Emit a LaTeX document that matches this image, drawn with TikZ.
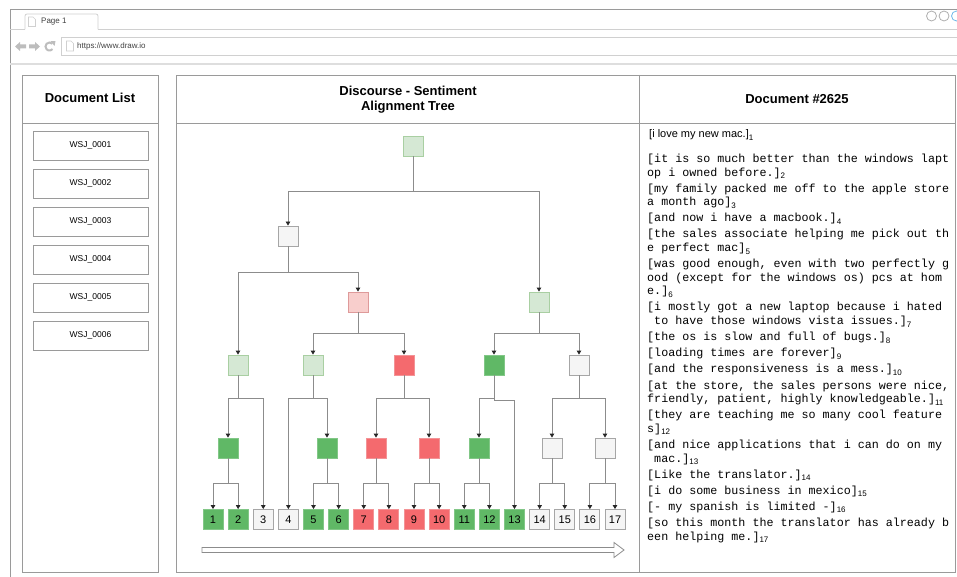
\documentclass[tikz,border=0pt]{standalone}
\usepackage{fontspec}
\setmainfont{Liberation Sans}
\newfontfamily\monofont{Liberation Mono}
\usetikzlibrary{arrows.meta}
\definecolor{lgfill}{HTML}{D5E8D4}\definecolor{lgdraw}{HTML}{A9CFA2}
\definecolor{dgfill}{HTML}{60B866}\definecolor{dgdraw}{HTML}{82C787}
\definecolor{rdfill}{HTML}{F46A6E}\definecolor{rddraw}{HTML}{F39396}
\definecolor{pkfill}{HTML}{F8CECC}\definecolor{pkdraw}{HTML}{DE9A9A}
\definecolor{gyfill}{HTML}{F5F5F5}\definecolor{gydraw}{HTML}{A6A6A6}
\definecolor{framecol}{HTML}{9A9A9A}
\definecolor{lightframe}{HTML}{D0D0D0}
\definecolor{conncol}{HTML}{8C8C8C}
\definecolor{iconcol}{HTML}{BDBDBD}
\definecolor{bluecirc}{HTML}{6FB8E8}
\newcommand\sbs[1]{\raisebox{-2.6pt}{\rmfamily\fontsize{8}{8}\selectfont #1}}
\tikzset{
  panel/.style={draw=framecol, line width=0.8pt},
  tbox/.style={minimum width=20pt, minimum height=20pt, inner sep=0pt, line width=0.8pt, font=\fontsize{11}{12}\selectfont},
  lg/.style={tbox, fill=lgfill, draw=lgdraw},
  dg/.style={tbox, fill=dgfill, draw=dgdraw},
  rd/.style={tbox, fill=rdfill, draw=rddraw},
  pk/.style={tbox, fill=pkfill, draw=pkdraw},
  gy/.style={tbox, fill=gyfill, draw=gydraw},
  conn/.style={draw=conncol, line width=0.8pt, -{Triangle[width=4.5pt,length=4pt,color=black!85]}},
  docitem/.style={draw=framecol, line width=0.8pt, minimum width=115pt, minimum height=29pt, inner sep=0pt, font=\fontsize{8.5}{10}\selectfont},
  title/.style={font=\bfseries\fontsize{13}{15}\selectfont, align=center},
  small/.style={font=\fontsize{8}{10}\selectfont, inner sep=0pt}
}
\begin{document}
\begin{tikzpicture}[x=1pt,y=-1pt]
\useasboundingbox (0,0) rectangle (957,577);
% browser frame
\draw[framecol, line width=0.8pt] (10,577) -- (10,9) -- (960,9);
\draw[lightframe, line width=0.8pt] (10,29) -- (25,29);
\draw[lightframe, line width=0.8pt] (98,29) -- (960,29);
\draw[lightframe, line width=0.8pt, fill=white, rounded corners=2pt] (25,29.4) -- (25,14) -- (98,14) -- (98,29.4);
\draw[lightframe, line width=0.7pt, fill=white] (28.5,17) -- (33,17) -- (35.5,19.5) -- (35.5,26.5) -- (28.5,26.5) -- cycle;
\node[small, anchor=west, text=black!75] (tab) at (41,21.5) {Page 1};
% nav icons
\fill[iconcol] (15,46.5) -- (20,42) -- (20,44.5) -- (26,44.5) -- (26,48.5) -- (20,48.5) -- (20,51) -- cycle;
\fill[iconcol] (40,46.5) -- (35,42) -- (35,44.5) -- (29,44.5) -- (29,48.5) -- (35,48.5) -- (35,51) -- cycle;
\draw[iconcol, line width=2pt] (52.3,43.7) arc (-45:-320:4);
\fill[iconcol] (50.5,41.2) -- (55.5,41.2) -- (54.5,46) -- cycle;
\draw[lightframe, line width=0.8pt] (960,37) -- (61,37) -- (61,55) -- (960,55);
\draw[lightframe, line width=0.7pt, fill=white] (66.5,41) -- (71,41) -- (73.5,43.5) -- (73.5,51) -- (66.5,51) -- cycle;
\node[small, anchor=west, text=black!75] (url) at (77,46.3) {https://www.draw.io};
\draw[lightframe!70, line width=1.2pt] (10,64) -- (960,64);
\draw[framecol!80, line width=0.8pt] (931.5,16) circle (5);
\draw[framecol!80, line width=0.8pt] (944,16) circle (5);
\draw[bluecirc, line width=0.8pt] (956.5,16) circle (5);
% document list panel
\draw[panel] (22,75) rectangle (158,572);
\draw[panel] (22,123) -- (158,123);
\node[title] (dltitle) at (90,98) {Document List};
\foreach \i in {1,...,6}{
  \node[docitem] (w\i) at (90.5,{145.5+38*(\i-1)}) {WSJ\_000\i};
}
% main panel
\draw[panel] (176,75) rectangle (955,572);
\draw[panel] (176,123) -- (955,123);
\draw[panel] (639,75) -- (639,572);
\node[title] (tt) at (408,100) {Discourse - Sentiment\\Alignment Tree};
\node[title] (dt) at (797,99) {Document \#2625};
% tree nodes
\node[lg] (root) at (413,146) {};
\node[gy] (n1) at (288,236) {};
\node[pk] (n2) at (358,302) {};
\node[lg] (n3) at (539,302) {};
\node[lg] (A) at (238,365) {};
\node[lg] (B) at (313,365) {};
\node[rd] (C) at (404,365) {};
\node[dg] (D) at (494,365) {};
\node[gy] (E) at (579,365) {};
\node[dg] (A1) at (228,448) {};
\node[dg] (B1) at (327,448) {};
\node[rd] (C1) at (376,448) {};
\node[rd] (C2) at (429,448) {};
\node[dg] (D1) at (479,448) {};
\node[gy] (E1) at (552,448) {};
\node[gy] (E2) at (605,448) {};
\foreach \i/\s in {1/dg,2/dg,3/gy,4/gy,5/dg,6/dg,7/rd,8/rd,9/rd,10/rd,11/dg,12/dg,13/dg,14/gy,15/gy,16/gy,17/gy}{
  \node[\s] (L\i) at ({213+25.125*(\i-1)},519.5) {\i};
}
% branch levels
\coordinate (b0) at (0,191);
\coordinate (b1) at (0,272);
\coordinate (b2) at (0,333);
\coordinate (b3) at (0,398);
\coordinate (b3r) at (0,400);
\coordinate (b4) at (0,483);
% connectors
\foreach \p/\c/\b in {root/n1/b0, root/n3/b0, n1/A/b1, n1/n2/b1, n2/B/b2, n2/C/b2, n3/D/b2, n3/E/b2,
  A/A1/b3, A/L3/b3, B/L4/b3, B/B1/b3, C/C1/b3, C/C2/b3, D/D1/b3, D/L13/b3r, E/E1/b3, E/E2/b3,
  A1/L1/b4, A1/L2/b4, B1/L5/b4, B1/L6/b4, C1/L7/b4, C1/L8/b4, C2/L9/b4, C2/L10/b4,
  D1/L11/b4, D1/L12/b4, E1/L14/b4, E1/L15/b4, E2/L16/b4, E2/L17/b4}{
  \draw[conn] (\p.south) -- (\p.south |- \b) -| (\c.north);
}
% order arrow
\draw[draw=conncol, line width=0.8pt, fill=white] (202,547.5) -- (614,547.5) -- (614,542.5) -- (624,550) -- (614,557.5) -- (614,552.5) -- (202,552.5) -- cycle;
% document text
\node[anchor=base west, inner sep=0pt, font=\fontsize{11}{13}\selectfont] (s1) at (649,137.5) {[i love my new mac.]\sbs{1}};
\node[anchor=base west, inner sep=0pt] (doc) at (647,162.5) {\parbox[t]{310pt}{\monofont\fontsize{11.7}{13.6}\selectfont\frenchspacing\lineskiplimit=-20pt\raggedright
{}[it is so much better than the windows lapt\\
op i owned before.]\sbs{2}\\[2.5pt]
{}[my family packed me off to the apple store\\
a month ago]\sbs{3}\\[2.5pt]
{}[and now i have a macbook.]\sbs{4}\\[2.5pt]
{}[the sales associate helping me pick out th\\
e perfect mac]\sbs{5}\\[2.5pt]
{}[was good enough, even with two perfectly g\\
ood (except for the windows os) pcs at hom\\
e.]\sbs{6}\\[2.5pt]
{}[i mostly got a new laptop because i hated\\
\hphantom{x}to have those windows vista issues.]\sbs{7}\\[2.5pt]
{}[the os is slow and full of bugs.]\sbs{8}\\[2.5pt]
{}[loading times are forever]\sbs{9}\\[2.5pt]
{}[and the responsiveness is a mess.]\sbs{10}\\[2.5pt]
{}[at the store, the sales persons were nice,\\
friendly, patient, highly knowledgeable.]\sbs{11}\\[2.5pt]
{}[they are teaching me so many cool feature\\
s]\sbs{12}\\[2.5pt]
{}[and nice applications that i can do on my\\
\hphantom{x}mac.]\sbs{13}\\[2.5pt]
{}[Like the translator.]\sbs{14}\\[2.5pt]
{}[i do some business in mexico]\sbs{15}\\[2.5pt]
{}[- my spanish is limited -]\sbs{16}\\[2.5pt]
{}[so this month the translator has already b\\
een helping me.]\sbs{17}}};
\end{tikzpicture}
\end{document}
